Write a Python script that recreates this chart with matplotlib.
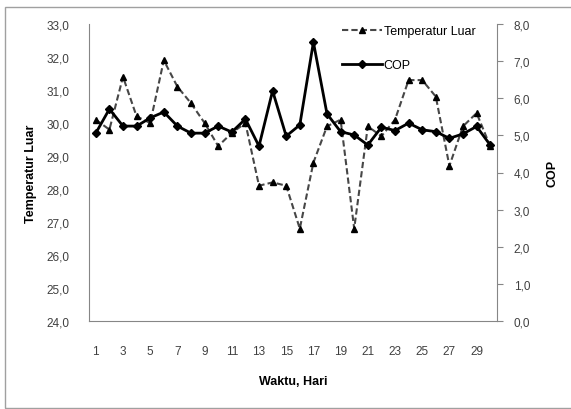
import matplotlib.pyplot as plt
from matplotlib.patches import Rectangle
from matplotlib.ticker import FuncFormatter
import numpy as np

plt.rcParams['font.family'] = ['Liberation Sans', 'DejaVu Sans']

# data
hari = list(range(1, 31))
temperatur = [30.1, 29.8, 31.4, 30.2, 30.0, 31.9, 31.1, 30.6, 30.0, 29.3,
              29.7, 30.0, 28.1, 28.2, 28.1, 26.8, 28.8, 29.9, 30.1, 26.8,
              29.9, 29.6, 30.1, 31.3, 31.3, 30.8, 28.7, 29.9, 30.3, 29.3]
cop = [5.06, 5.71, 5.25, 5.25, 5.47, 5.63, 5.25, 5.06, 5.06, 5.25,
       5.09, 5.44, 4.71, 6.20, 4.98, 5.28, 7.51, 5.58, 5.10, 5.01,
       4.74, 5.22, 5.13, 5.33, 5.15, 5.10, 4.92, 5.04, 5.24, 4.74]
xticks = list(range(1, 31, 2))

txt = '#404040'
axc = '#868686'

fig = plt.figure(figsize=(5.71, 4.10), dpi=100)
fig.patches.append(Rectangle((5/571, 1/410), 570/571, 401/410, transform=fig.transFigure,
                             fill=False, edgecolor='#a0a0a0', lw=1.0))

ax = fig.add_axes([89/571, 1-322/410, 408/571, 297/410])
ax2 = ax.twinx()

l1, = ax.plot(hari, temperatur, color='#474747', lw=1.5, dashes=(3, 1.5),
              marker='^', ms=5, mfc='black', mec='black', label='Temperatur Luar')
l2, = ax2.plot(hari, cop, color='black', lw=2, marker='D', ms=4.5,
               mfc='black', mec='black', label='COP')

fmt = FuncFormatter(lambda v, p: ('%.1f' % v).replace('.', ','))

ax.set_xlim(0.5, 30.5)
ax.set_ylim(24, 33)
ax.set_yticks(np.arange(24, 33.5, 1))
ax.yaxis.set_major_formatter(fmt)
ax.set_xticks(xticks)
ax.tick_params(axis='both', length=0, labelsize=8.5, colors=txt)
ax.tick_params(axis='y', pad=14)
ax.tick_params(axis='x', pad=17)

ax2.set_ylim(0, 8)
ax2.set_yticks(np.arange(0, 8.5, 1))
ax2.yaxis.set_major_formatter(fmt)
ax2.tick_params(axis='y', length=4, direction='out', labelsize=8.5, colors=txt,
                pad=8)
ax2.tick_params(axis='y', color=axc)

for a in (ax, ax2):
    a.spines['top'].set_visible(False)
    for s in ('left', 'right', 'bottom'):
        a.spines[s].set_color(axc)
ax.spines['right'].set_visible(False)
ax2.spines['left'].set_visible(False)
ax2.spines['bottom'].set_visible(False)

ax.set_ylabel('Temperatur Luar', fontsize=9, fontweight='bold', color='black', labelpad=7)
ax2.set_ylabel('COP', fontsize=9, fontweight='bold', color='black', labelpad=12)
ax.set_xlabel('Waktu, Hari', fontsize=9, fontweight='bold', color='black', labelpad=13)

leg = fig.legend([l1, l2], ['Temperatur Luar', 'COP'], loc='upper left',
                 bbox_to_anchor=(342/571, 1-26/410), frameon=False, fontsize=9,
                 borderpad=0, borderaxespad=0,
                 handlelength=3.2, handletextpad=0.15, labelspacing=1.75,
                 labelcolor='black')

fig.savefig('out.png', dpi=100)
